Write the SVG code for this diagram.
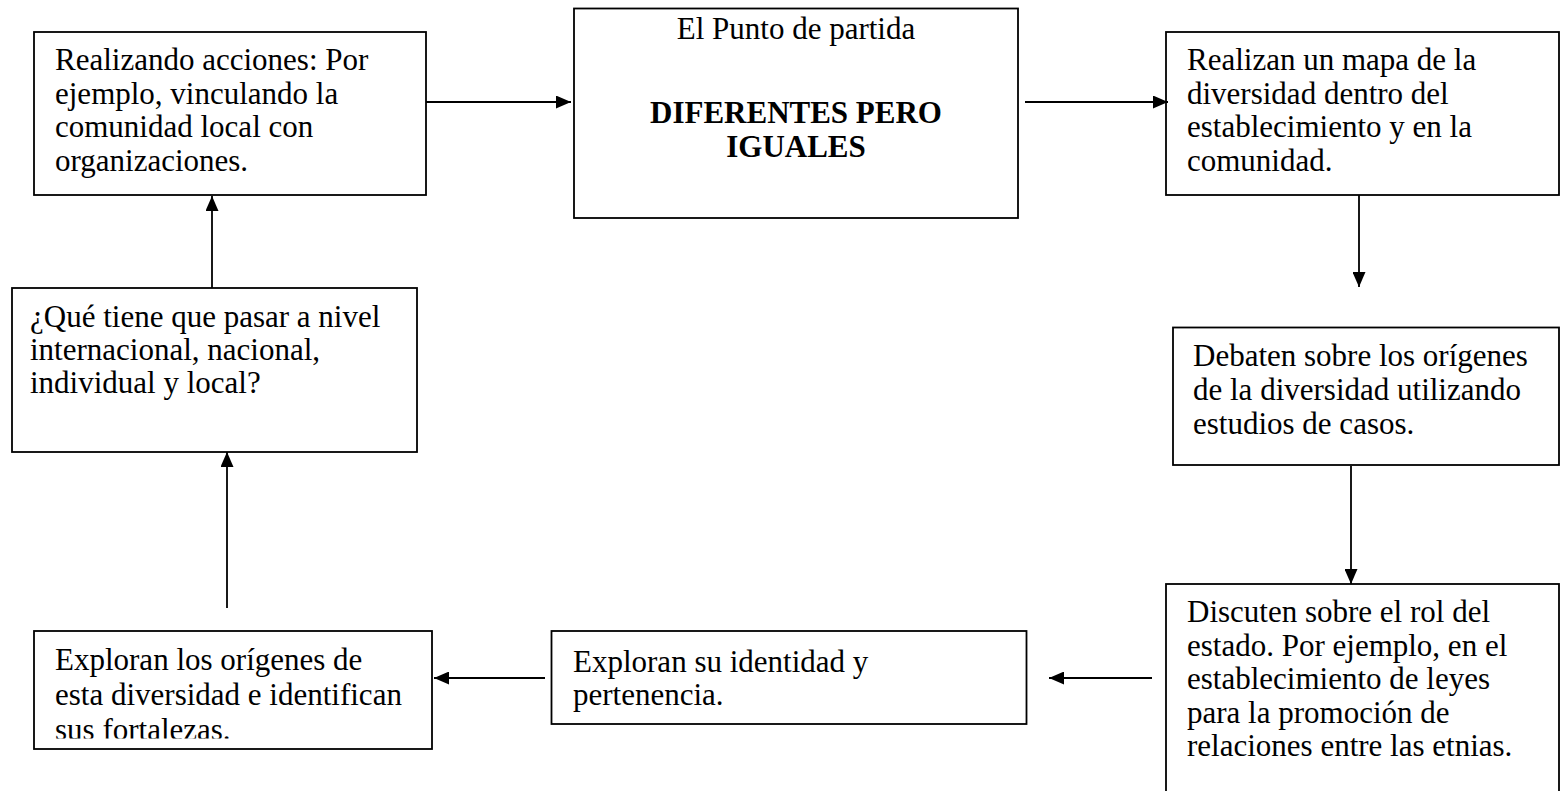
<svg xmlns="http://www.w3.org/2000/svg" width="1560" height="791" viewBox="0 0 1560 791">
<style>
.box{fill:#fff;stroke:#000;stroke-width:1.8}
.t{font-family:"Liberation Serif","Times New Roman",serif;font-size:31px;fill:#000}
.b{font-weight:bold}
.c{text-anchor:middle}
.conn path{fill:none;stroke:#000;stroke-width:1.8;marker-end:url(#ah)}
</style>
<defs>
<marker id="ah" viewBox="0 0 15 13" refX="15" refY="6.5" markerWidth="15" markerHeight="13" markerUnits="userSpaceOnUse" orient="auto">
<path d="M0,0 L15,6.5 L0,13 z" fill="#000"/>
</marker>
<clipPath id="clipG"><rect x="33" y="631" width="400" height="107.5"/></clipPath>
</defs>
<rect width="1560" height="791" fill="#fff"/>
<g id="nodeA">
<rect class="box" x="34" y="32" width="392" height="163"/>
<text class="t"><tspan x="55" y="70">Realizando acciones: Por</tspan><tspan x="55" y="103.5">ejemplo, vinculando la</tspan><tspan x="55" y="137">comunidad local con</tspan><tspan x="55" y="170.5">organizaciones.</tspan></text>
</g>
<g id="nodeB">
<rect class="box" x="574" y="8.5" width="444" height="209.5"/>
<text class="t c" x="796" y="39">El Punto de partida</text>
<text class="t b c"><tspan x="796" y="123">DIFERENTES PERO</tspan><tspan x="796" y="157">IGUALES</tspan></text>
</g>
<g id="nodeC">
<rect class="box" x="1166" y="32" width="393" height="163"/>
<text class="t"><tspan x="1187" y="70">Realizan un mapa de la</tspan><tspan x="1187" y="103.5">diversidad dentro del</tspan><tspan x="1187" y="137">establecimiento y en la</tspan><tspan x="1187" y="170.5">comunidad.</tspan></text>
</g>
<g id="nodeD">
<rect class="box" x="1173" y="327.5" width="386" height="137.5"/>
<text class="t"><tspan x="1193" y="366">Debaten sobre los orígenes</tspan><tspan x="1193" y="400">de la diversidad utilizando</tspan><tspan x="1193" y="434">estudios de casos.</tspan></text>
</g>
<g id="nodeE">
<rect class="box" x="1166" y="584" width="393" height="220"/>
<text class="t"><tspan x="1187" y="622">Discuten sobre el rol del</tspan><tspan x="1187" y="655.5">estado. Por ejemplo, en el</tspan><tspan x="1187" y="689">establecimiento de leyes</tspan><tspan x="1187" y="722.5">para la promoción de</tspan><tspan x="1187" y="756">relaciones entre las etnias.</tspan></text>
</g>
<g id="nodeF">
<rect class="box" x="551.5" y="631" width="475" height="93"/>
<text class="t"><tspan x="573" y="672">Exploran su identidad y</tspan><tspan x="573" y="705">pertenencia.</tspan></text>
</g>
<g id="nodeG">
<rect class="box" x="34" y="631" width="398" height="118"/>
<text class="t" clip-path="url(#clipG)"><tspan x="55" y="670">Exploran los orígenes de</tspan><tspan x="55" y="705">esta diversidad e identifican</tspan><tspan x="55" y="740">sus fortalezas.</tspan></text>
</g>
<g id="nodeH">
<rect class="box" x="12" y="288" width="405" height="164"/>
<text class="t"><tspan x="30" y="327">¿Qué tiene que pasar a nivel</tspan><tspan x="30" y="360">internacional, nacional,</tspan><tspan x="30" y="393">individual y local?</tspan></text>
</g>
<g id="connectors" class="conn">
<path d="M426,102 L571,102"/>
<path d="M1025,102 L1168,102"/>
<path d="M1359,195 L1359,287"/>
<path d="M1351,466 L1351,584"/>
<path d="M1152,678 L1049,678"/>
<path d="M545,678 L434,678"/>
<path d="M227,608 L227,452"/>
<path d="M212,288 L212,196"/>
</g>
</svg>
